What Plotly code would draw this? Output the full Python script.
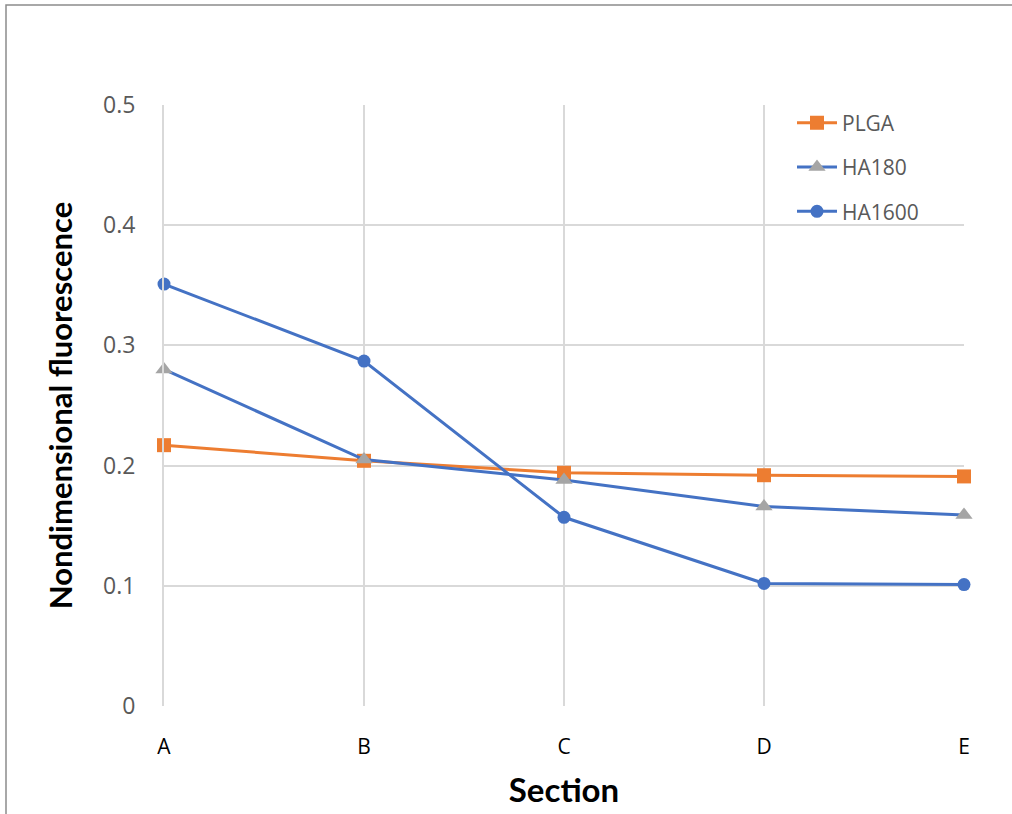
import plotly.graph_objects as go

# Sections along the sample and fluorescence per formulation
sections = ["A", "B", "C", "D", "E"]
plga = [0.217, 0.204, 0.194, 0.192, 0.191]
ha180 = [0.280, 0.205, 0.188, 0.166, 0.159]
ha1600 = [0.351, 0.287, 0.157, 0.102, 0.101]

ORANGE = "#ED7D31"
BLUE = "#4472C4"
GREY = "#A5A5A5"
xpos = list(range(len(sections)))

fig = go.Figure()
fig.add_trace(go.Scatter(
    x=xpos, y=plga, name="PLGA", mode="lines+markers", legendgroup="a",
    line=dict(color=ORANGE, width=3),
    marker=dict(symbol="square", size=14, color=ORANGE), cliponaxis=False))
fig.add_trace(go.Scatter(
    x=xpos, y=ha180, name="HA180", mode="lines+markers", legendgroup="b",
    line=dict(color=BLUE, width=3),
    marker=dict(symbol="triangle-up", size=15, color=GREY), cliponaxis=False))
fig.add_trace(go.Scatter(
    x=xpos, y=ha1600, name="HA1600", mode="lines+markers", legendgroup="c",
    line=dict(color=BLUE, width=3),
    marker=dict(symbol="circle", size=13, color=BLUE), cliponaxis=False))

fig.update_layout(
    width=1012, height=814,
    margin=dict(l=164, r=48, t=105, b=108),
    paper_bgcolor="white", plot_bgcolor="white",
    font=dict(family="Open Sans, sans-serif", color="#595959"),
    showlegend=True,
    legend=dict(x=0.785, y=1.004, xanchor="left", yanchor="top",
                font=dict(size=21, color="#595959"),
                bgcolor="rgba(255,255,255,0)", tracegroupgap=14,
                itemwidth=40),
    xaxis=dict(
        range=[0, 4], tickmode="array", tickvals=xpos, ticktext=sections,
        showgrid=True, gridcolor="#D9D9D9", gridwidth=2,
        zeroline=False, showline=False, ticks="",
        ticklabelstandoff=26,
        tickfont=dict(size=21, color="#000000"),
        title=dict(text="<b>Section</b>", standoff=19,
                   font=dict(family="Lato, sans-serif", size=33, color="#000000"))),
    yaxis=dict(
        range=[0, 0.5], tickmode="array", tickvals=[0, 0.1, 0.2, 0.3, 0.4, 0.5],
        ticktext=["0", "0.1", "0.2", "0.3", "0.4", "0.5"],
        showgrid=True, gridcolor="#D9D9D9", gridwidth=2,
        zeroline=False, showline=True, linecolor="#D9D9D9", linewidth=2,
        mirror=False, ticks="", ticklabelstandoff=22,
        tickfont=dict(size=23, color="#595959"),
        title=dict(text="<b>Nondimensional fluorescence</b>", standoff=21,
                   font=dict(family="Lato, sans-serif", size=31, color="#000000"))),
    shapes=[dict(type="rect", xref="paper", yref="paper",
                 x0=-158 / 800, x1=1.2, y0=-0.3, y1=1 + 100 / 601,
                 line=dict(color="#8C8C8C", width=1.5), fillcolor="rgba(0,0,0,0)",
                 layer="below")],
)

fig.write_html("out.html")
